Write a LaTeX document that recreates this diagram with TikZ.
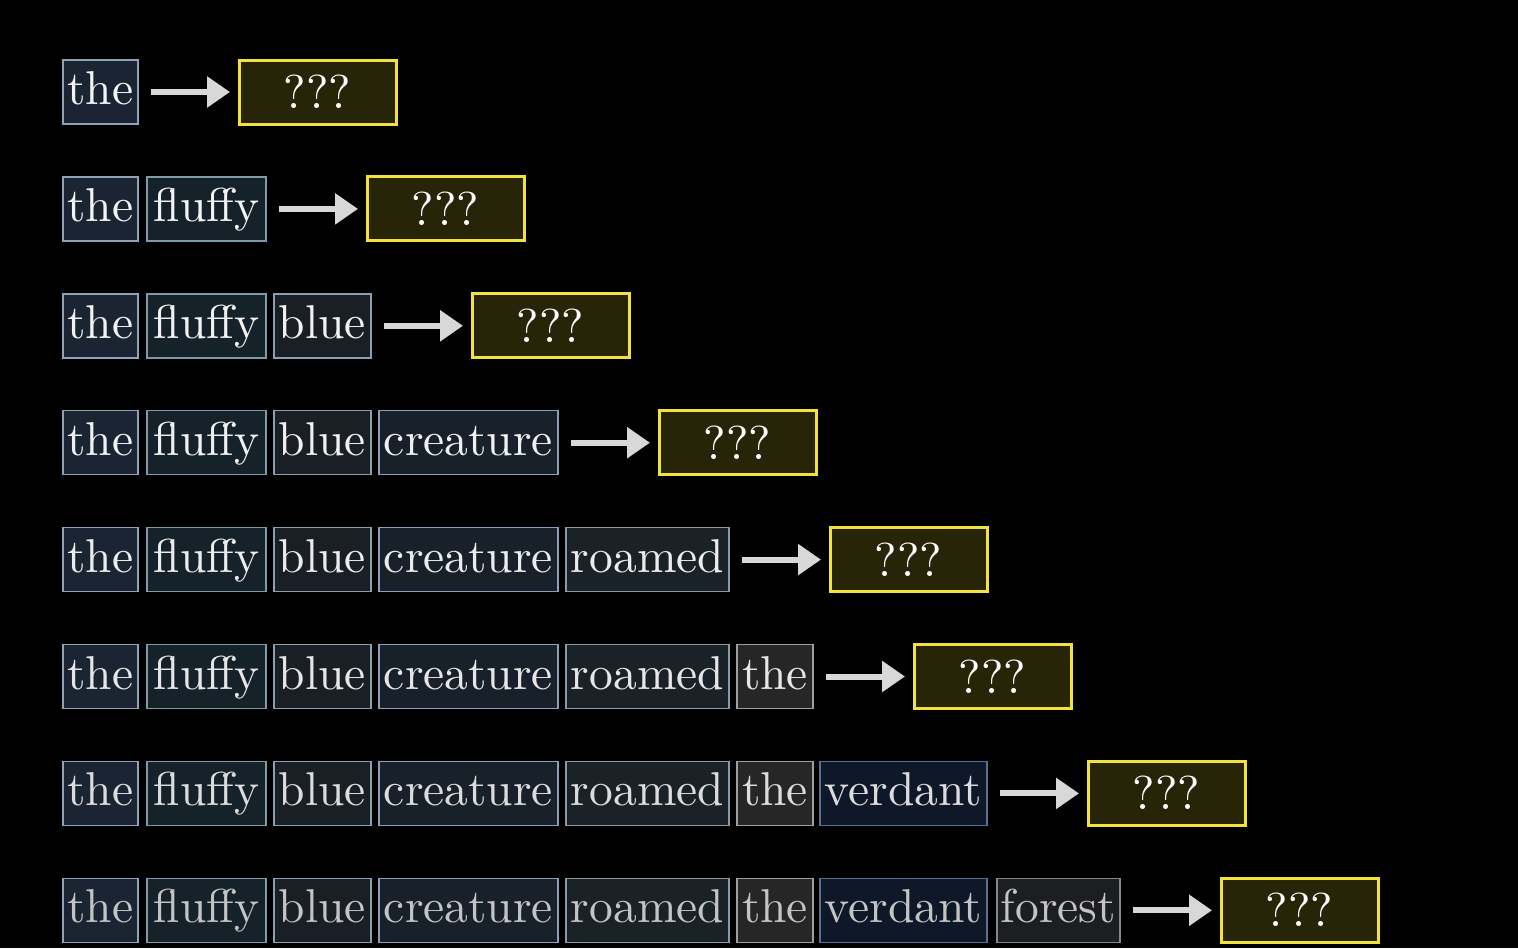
\documentclass[tikz,border=0pt]{standalone}
\usepackage{graphicx}
\usetikzlibrary{arrows.meta}
\definecolor{bgc}{HTML}{000000}
\definecolor{yel}{HTML}{F2E23C}
\definecolor{qfill}{HTML}{282408}
\definecolor{arrc}{HTML}{D8D8D8}
\definecolor{fthe}{HTML}{1A2433}\definecolor{dthe}{HTML}{8FA3B8}
\definecolor{ffluffy}{HTML}{162229}\definecolor{dfluffy}{HTML}{7F9BA5}
\definecolor{fblue}{HTML}{1A1F26}\definecolor{dblue}{HTML}{8A9FB0}
\definecolor{fcreature}{HTML}{18202A}\definecolor{dcreature}{HTML}{8AA0B8}
\definecolor{froamed}{HTML}{1A2228}\definecolor{droamed}{HTML}{8A9AA5}
\definecolor{ftheb}{HTML}{262626}\definecolor{dtheb}{HTML}{A0A0A0}
\definecolor{fverdant}{HTML}{0F1828}\definecolor{dverdant}{HTML}{5A7090}
\definecolor{fforest}{HTML}{1C1E21}\definecolor{dforest}{HTML}{808890}
\definecolor{t1}{HTML}{F4F4F4}\definecolor{t2}{HTML}{F4F4F4}
\definecolor{t3}{HTML}{F2F2F2}\definecolor{t4}{HTML}{F0F0F0}
\definecolor{t5}{HTML}{ECECEC}\definecolor{t6}{HTML}{E6E6E6}
\definecolor{t7}{HTML}{DCDCDC}\definecolor{t8}{HTML}{C4C4C4}
\newcommand{\wtxt}[1]{\scalebox{4.75}{\fontsize{10}{12}\selectfont #1}}
\tikzset{
  wordbox/.style={draw, line width=1.5pt, anchor=west, minimum height=64pt,
    inner sep=0pt, outer sep=0pt, text height=35pt, text depth=10pt},
  qbox/.style={draw=yel, fill=qfill, line width=3pt, anchor=west,
    minimum width=157pt, minimum height=64pt, inner sep=0pt, outer sep=0pt,
    text height=39pt, text depth=6pt, text=white},
  arr/.style={draw=arrc, line width=6pt,
    -{Triangle[length=23pt,width=30pt]}, shorten <=13pt, shorten >=9pt}
}
\begin{document}
\begin{tikzpicture}[x=1pt,y=-1pt]
\fill[bgc] (0,0) rectangle (1518,948);
\useasboundingbox (0,0) rectangle (1518,948);
\foreach \r in {1,...,8}{
  \pgfmathsetmacro{\yc}{92+116.9*(\r-1)}
  \foreach \i/\word/\xa/\xb/\sty in {
      1/the/63/138/the, 2/fluffy/147/266/fluffy, 3/blue/274/371/blue,
      4/creature/379/558/creature, 5/roamed/566/729/roamed,
      6/the/737/813/theb, 7/verdant/820/987/verdant, 8/forest/997/1120/forest}{
    \ifnum\i>\r\else
      \node[wordbox, fill=f\sty, draw=d\sty, text=t\r,
            minimum width={\xb-\xa}] (w-\r-\i) at (\xa,\yc) {\wtxt{\word}};
      \ifnum\i=\r
        \node[qbox] (q-\r) at (\xb+101,\yc) {\wtxt{???}};
        \draw[arr] (w-\r-\i) -- (q-\r);
      \fi
    \fi
  }
}
\end{tikzpicture}
\end{document}
